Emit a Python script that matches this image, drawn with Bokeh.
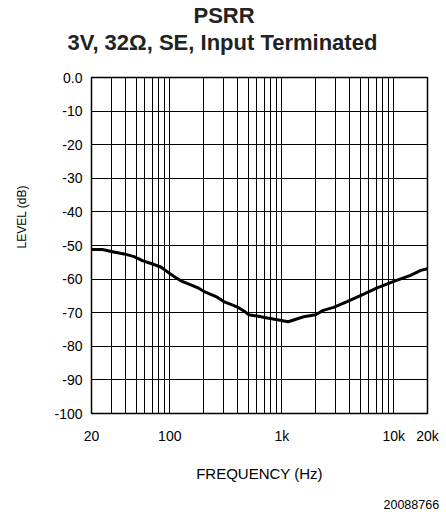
from bokeh.plotting import figure
from bokeh.models import FixedTicker, CustomJSTickFormatter, Range1d, Title
from bokeh.embed import file_html
from bokeh.resources import INLINE

# ---- data ----
freq = [20, 25, 30, 39, 48, 57, 70, 83, 94, 109, 129, 158, 181, 208, 265, 303,
        360, 412, 474, 506, 600, 742, 913, 1140, 1380, 1570, 2000, 2350, 2900,
        3830, 5040, 7100, 10000, 14100, 17400, 20000]
level = [-51.2, -51.2, -51.8, -52.5, -53.3, -54.5, -55.5, -56.4, -57.7, -59.2,
         -60.7, -61.9, -62.7, -63.9, -65.4, -66.7, -67.7, -68.5, -69.8, -70.6,
         -71.0, -71.6, -72.1, -72.7, -71.8, -71.2, -70.6, -69.3, -68.4, -66.7,
         -64.9, -62.6, -60.7, -58.9, -57.4, -56.9]

x_tick_vals = [20, 100, 1000, 10000, 20000]
x_tick_labels = ["20", "100", "1k", "10k", "20k"]
y_tick_vals = [0, -10, -20, -30, -40, -50, -60, -70, -80, -90, -100]
x_grid_vals = [30, 40, 50, 60, 70, 80, 90, 100,
               200, 300, 400, 500, 600, 700, 800, 900, 1000,
               2000, 3000, 4000, 5000, 6000, 7000, 8000, 9000, 10000]
y_grid_vals = [-10, -20, -30, -40, -50, -60, -70, -80, -90]

title1 = "PSRR"
title2 = "3V, 32\u03a9, SE, Input Terminated"
x_title = "FREQUENCY (Hz)"
y_title = "LEVEL (dB)"
code_text = "20088766"

FONT = "Liberation Sans"

p = figure(width=446, height=516, x_axis_type="log",
           x_range=Range1d(20, 20000), y_range=Range1d(-100, 0),
           output_backend="svg", toolbar_location=None,
           min_border_left=91, min_border_right=19,
           min_border_top=77, min_border_bottom=103)
p.title.visible = False
p.background_fill_color = "white"
p.border_fill_color = "white"
p.outline_line_color = "black"
p.outline_line_width = 1.5
p.outline_line_alpha = 1.0

# axes
p.xaxis.ticker = FixedTicker(ticks=x_tick_vals)
p.xaxis.formatter = CustomJSTickFormatter(
    args=dict(vals=x_tick_vals, labs=x_tick_labels),
    code="""
    for (let i = 0; i < vals.length; i++) {
        if (Math.abs(vals[i] - tick) < 1e-6 * vals[i]) return labs[i];
    }
    return '';
    """)
p.yaxis.ticker = FixedTicker(ticks=y_tick_vals)
p.yaxis.formatter = CustomJSTickFormatter(
    code="return (Math.abs(tick) < 1e-9) ? '0.0' : String(Math.round(tick));")

for ax in (p.xaxis[0], p.yaxis[0]):
    ax.axis_line_color = None
    ax.major_tick_line_color = None
    ax.minor_tick_line_color = None
    ax.major_tick_out = 0
    ax.major_tick_in = 0
    ax.minor_tick_out = 0
    ax.minor_tick_in = 0
    ax.major_label_text_font = FONT
    ax.major_label_text_font_size = "14px"
    ax.major_label_text_color = "black"
p.xaxis.major_label_standoff = 14
p.yaxis.major_label_standoff = 9

p.xaxis.axis_label = x_title
p.xaxis.axis_label_text_font = FONT
p.xaxis.axis_label_text_font_size = "15px"
p.xaxis.axis_label_text_font_style = "normal"
p.xaxis.axis_label_text_color = "black"
p.xaxis.axis_label_standoff = 18

# grid
p.xgrid.ticker = FixedTicker(ticks=x_grid_vals)
p.ygrid.ticker = FixedTicker(ticks=y_grid_vals)
for g in (p.xgrid[0], p.ygrid[0]):
    g.grid_line_color = "black"
    g.grid_line_alpha = 1.0
    g.grid_line_width = 1

# curve
p.line(freq, level, line_width=3, line_color="black", line_join="round")


def spacer(size):
    return Title(text=" ", text_font_size="1px", standoff=size, text_color="white")


# titles (above): spacer nearest the frame, then line 2, then line 1
p.add_layout(spacer(20), "above")
p.add_layout(Title(text=title2, align="left", offset=-24, standoff=0,
                   text_font=FONT, text_font_size="22px", text_font_style="bold",
                   text_color="#222222"), "above")
p.add_layout(Title(text=title1, align="left", offset=102, standoff=0,
                   text_font=FONT, text_font_size="22px", text_font_style="bold",
                   text_color="#222222"), "above")

# y label (left): spacer between axis and label
p.add_layout(spacer(20), "left")
p.add_layout(Title(text=y_title, align="left", offset=165, standoff=0,
                   text_font=FONT, text_font_size="12px", text_font_style="normal",
                   text_color="black"), "left")

# figure code (below): spacer between axis and code
p.add_layout(spacer(10), "below")
p.add_layout(Title(text=code_text, align="left", offset=292, standoff=0,
                   text_font=FONT, text_font_size="12.5px", text_font_style="normal",
                   text_color="black"), "below")

open("out.html", "w").write(file_html(p, INLINE))
